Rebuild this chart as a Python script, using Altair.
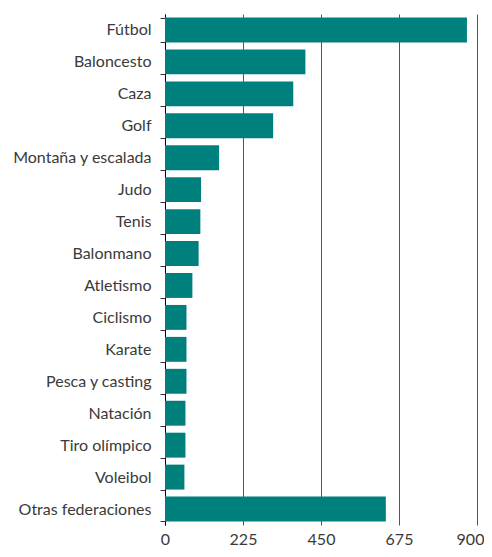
import altair as alt
import pandas as pd

categories = ["Fútbol ", "Baloncesto ", "Caza ", "Golf ", "Montaña y escalada", "Judo ",
              "Tenis ", "Balonmano ", "Atletismo ", "Ciclismo ", "Karate ", "Pesca y casting",
              "Natación ", "Tiro olímpico ", "Voleibol ", "Otras federaciones"]
values = [871, 405, 370, 312, 156, 104, 102, 97, 79, 62, 62, 62, 59, 59, 56, 637]
x_ticks = [0, 225, 450, 675, 900]

df = pd.DataFrame({"cat": categories, "val": values})

chart = alt.Chart(df).mark_bar(color="#00807D").encode(
    x=alt.X("val:Q", scale=alt.Scale(domain=[0, 900], nice=False),
            axis=alt.Axis(values=x_ticks, title=None, domain=False, ticks=False,
                          grid=True, gridColor="#555555", gridWidth=1, labelFlush=False,
                          labelOffset=alt.expr("datum.value == 900 ? -7 : 0"),
                          labelFontSize=16, labelColor="#3a3a3a", labelPadding=6,
                          labelFont="Lato")),
    y=alt.Y("cat:N", sort=categories, scale=alt.Scale(paddingInner=0.22, paddingOuter=0.11),
            axis=alt.Axis(title=None, domain=True, domainColor="#000000", tickBand="extent",
                          ticks=True, tickColor="#333333", tickSize=5,
                          labelFontSize=16, labelColor="#3a3a3a", labelPadding=9,
                          labelFont="Lato")),
).properties(
    width=312, height=511,
    autosize=alt.AutoSizeParams(type="none"),
    padding={"left": 157, "top": 6, "right": 7, "bottom": 24},
).configure_view(stroke=None)

chart.save("out.html", embed_options={"renderer": "svg", "actions": False})
